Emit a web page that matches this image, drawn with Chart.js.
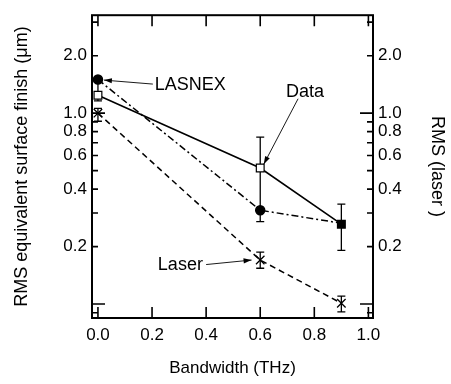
<!DOCTYPE html>
<html><head><meta charset="utf-8">
<script src="https://cdn.jsdelivr.net/npm/chart.js@4.4.0/dist/chart.umd.min.js"></script>
<style>html,body{margin:0;padding:0;background:#fff}canvas{display:block}</style>
</head><body>
<canvas id="c" width="451" height="384"></canvas>
<script>
// ---- data ----
const bandwidth = [0, 0.6, 0.9];
const dataRms = [1.24, 0.516, 0.262];
const dataErrLow = [1.16, 0.27, 0.191];
const dataErrHigh = [1.45, 0.749, 0.334];
const lasnexRms = [1.50, 0.31, 0.265];
const laserRms = [1.0, 0.17, 0.101];
const laserErrLow = [0.907, 0.154, 0.091];
const laserErrHigh = [1.06, 0.187, 0.110];
const xTicks = [0, 0.2, 0.4, 0.6, 0.8, 1.0];
const yTicks = [0.09, 0.1, 0.2, 0.3, 0.4, 0.5, 0.6, 0.7, 0.8, 0.9, 1, 2, 3];
const yMajor = [0.1, 1];
const yLabels = {2: '2.0', 1: '1.0', 0.8: '0.8', 0.6: '0.6', 0.4: '0.4', 0.2: '0.2'};
const annotationTexts = ['LASNEX', 'Data', 'Laser'];
const annotationAt = [[0.21, 1.40], [0.766, 1.29], [0.388, 0.16]];
const annotationAlign = ['left', 'center', 'right'];
const arrowFrom = [[0.203, 1.42], [0.74, 1.19], [0.40, 0.161]];
const arrowTo = [[0.022, 1.49], [0.613, 0.54], [0.568, 0.170]];

const FONT = "'Liberation Sans', Arial, Helvetica, sans-serif";
Chart.defaults.font.family = FONT;
Chart.defaults.color = '#000';

const pts = (ys) => bandwidth.map((x, i) => ({x, y: ys[i]}));

const framePlugin = {
  id: 'frame',
  beforeDatasetsDraw(chart) {
    const ctx = chart.ctx, xs = chart.scales.x, y = chart.scales.y, y2 = chart.scales.y2;
    ctx.save();
    ctx.strokeStyle = '#000';
    ctx.lineWidth = 1.3;
    const bars = (lo, hi, sc) => {
      bandwidth.forEach((bx, i) => {
        const px = xs.getPixelForValue(bx);
        const a = sc.getPixelForValue(lo[i]), b = sc.getPixelForValue(hi[i]);
        ctx.beginPath();
        ctx.moveTo(px, a); ctx.lineTo(px, b);
        ctx.moveTo(px - 4, a); ctx.lineTo(px + 4, a);
        ctx.moveTo(px - 4, b); ctx.lineTo(px + 4, b);
        ctx.stroke();
      });
    };
    bars(dataErrLow, dataErrHigh, y);
    bars(laserErrLow, laserErrHigh, y2);
    ctx.restore();
  },
  afterDraw(chart) {
    const ctx = chart.ctx, a = chart.chartArea;
    const xs = chart.scales.x, y = chart.scales.y;
    ctx.save();
    ctx.strokeStyle = '#000';
    ctx.lineWidth = 2;
    ctx.strokeRect(a.left, a.top, a.right - a.left, a.bottom - a.top);
    ctx.lineWidth = 1.6;
    ctx.beginPath();
    xTicks.forEach(v => {
      const px = xs.getPixelForValue(v);
      ctx.moveTo(px, a.bottom); ctx.lineTo(px, a.bottom - 11);
      ctx.moveTo(px, a.top); ctx.lineTo(px, a.top + 11);
    });
    yTicks.forEach(v => {
      const py = y.getPixelForValue(v);
      const len = yMajor.includes(v) ? 13 : 6;
      ctx.moveTo(a.left, py); ctx.lineTo(a.left + len, py);
      ctx.moveTo(a.right, py); ctx.lineTo(a.right - len, py);
    });
    ctx.stroke();
    // annotations
    ctx.font = '18px ' + FONT;
    ctx.fillStyle = '#000';
    ctx.textBaseline = 'middle';
    annotationTexts.forEach((t, i) => {
      ctx.textAlign = annotationAlign[i];
      ctx.fillText(t, xs.getPixelForValue(annotationAt[i][0]), y.getPixelForValue(annotationAt[i][1]));
      const x0 = xs.getPixelForValue(arrowFrom[i][0]), y0 = y.getPixelForValue(arrowFrom[i][1]);
      const x1 = xs.getPixelForValue(arrowTo[i][0]), y1 = y.getPixelForValue(arrowTo[i][1]);
      ctx.lineWidth = 0.9;
      ctx.beginPath(); ctx.moveTo(x0, y0); ctx.lineTo(x1, y1); ctx.stroke();
      const ang = Math.atan2(y1 - y0, x1 - x0);
      ctx.beginPath();
      ctx.moveTo(x1, y1);
      ctx.lineTo(x1 - 8 * Math.cos(ang) + 2.6 * Math.sin(ang), y1 - 8 * Math.sin(ang) - 2.6 * Math.cos(ang));
      ctx.lineTo(x1 - 8 * Math.cos(ang) - 2.6 * Math.sin(ang), y1 - 8 * Math.sin(ang) + 2.6 * Math.cos(ang));
      ctx.closePath(); ctx.fill();
    });
    ctx.restore();
  }
};

const yScale = (pos, width, title, pad) => ({
  type: 'logarithmic', position: pos, min: 0.0845, max: 3.26,
  afterBuildTicks: s => { s.ticks = yTicks.map(v => ({value: v})); },
  afterFit: s => { s.width = width; },
  grid: {display: false, drawTicks: false}, border: {display: false},
  ticks: {callback: v => (yLabels[v] !== undefined ? yLabels[v] : ''), autoSkip: false,
          font: {size: 17}, color: '#000', padding: 5},
  title: {display: true, text: title, font: {size: 18}, color: '#000', padding: {top: pad, bottom: 0}}
});

new Chart(document.getElementById('c'), {
  type: 'scatter',
  data: {datasets: [
    {label: 'Data', data: pts(dataRms), showLine: true, borderColor: '#000', borderWidth: 1.6,
     pointStyle: 'rect', pointRadius: 5.5, pointBackgroundColor: ['#fff', '#fff', '#000'],
     pointBorderColor: '#000', pointBorderWidth: 1.2, yAxisID: 'y'},
    {label: 'LASNEX', data: pts(lasnexRms), showLine: true, borderColor: '#000', borderWidth: 1.5,
     borderDash: [7, 3, 2, 3], pointStyle: 'circle', pointRadius: [4.5, 4.5, 0],
     pointBackgroundColor: '#000', pointBorderColor: '#000', yAxisID: 'y'},
    {label: 'Laser', data: pts(laserRms), showLine: true, borderColor: '#000', borderWidth: 1.5,
     borderDash: [6, 4], pointStyle: 'crossRot', pointRadius: 6, pointBorderWidth: 1.3,
     pointBorderColor: '#000', yAxisID: 'y2'}
  ]},
  options: {
    responsive: false, animation: false, devicePixelRatio: 1,
    layout: {padding: {top: 7, left: 0, right: 0, bottom: 0}},
    plugins: {legend: {display: false}, tooltip: {enabled: false}},
    scales: {
      x: {type: 'linear', position: 'bottom', min: -0.022, max: 1.017,
          afterBuildTicks: s => { s.ticks = xTicks.map(v => ({value: v})); },
          afterFit: s => { s.height = 66; },
          grid: {display: false, drawTicks: false}, border: {display: false},
          ticks: {callback: v => v.toFixed(1), font: {size: 17}, color: '#000', padding: 7,
                  maxRotation: 0, autoSkip: false},
          title: {display: true, text: 'Bandwidth (THz)', font: {size: 17}, color: '#000',
                  padding: {top: 0, bottom: 5}}},
      y: yScale('left', 92, 'RMS equivalent surface finish (μm)', 11),
      y2: yScale('right', 78, 'RMS (laser )', 3)
    }
  },
  plugins: [framePlugin]
});
</script>
</body></html>
